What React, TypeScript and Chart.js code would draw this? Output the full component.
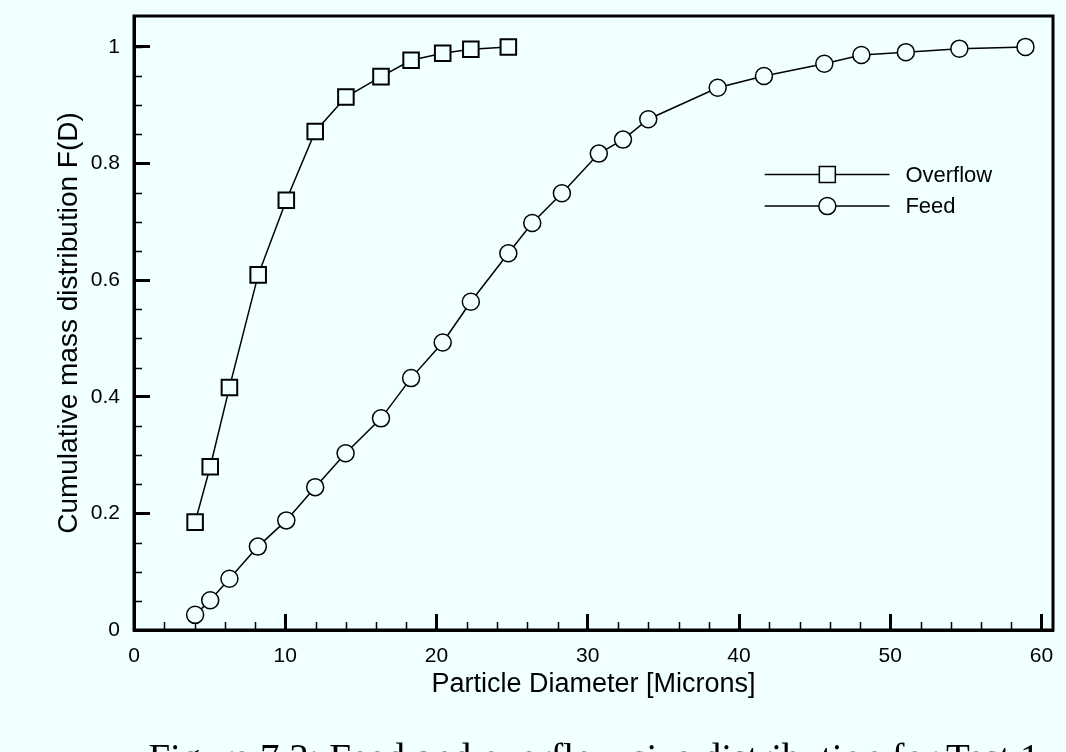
import React, { useEffect, useRef } from "react";
import { Chart, registerables } from "chart.js";

Chart.register(...registerables);

// ---------- data ----------
const overflowLabel = "Overflow";
const feedLabel = "Feed";

const overflowDiameters = [4.04, 5.04, 6.31, 8.21, 10.07, 11.98, 14.01, 16.33, 18.32, 20.41, 22.27, 24.75];
const overflowCumulative = [0.185, 0.28, 0.416, 0.609, 0.737, 0.855, 0.914, 0.949, 0.977, 0.989, 0.996, 1.0];

const feedDiameters = [
  4.04, 5.04, 6.31, 8.19, 10.07, 11.98, 13.99, 16.33, 18.32, 20.41, 22.27, 24.75,
  26.33, 28.29, 30.73, 32.33, 34.0, 38.59, 41.65, 45.64, 48.09, 51.03, 54.57, 58.94,
];
const feedCumulative = [
  0.026, 0.051, 0.088, 0.143, 0.188, 0.245, 0.303, 0.363, 0.432, 0.493, 0.563, 0.646,
  0.698, 0.749, 0.817, 0.841, 0.876, 0.93, 0.95, 0.971, 0.986, 0.991, 0.997, 1.0,
];

const xTickValues = [0, 10, 20, 30, 40, 50, 60];
const xTickLabels = ["0", "10", "20", "30", "40", "50", "60"];
const yTickValues = [0, 0.2, 0.4, 0.6, 0.8, 1];
const yTickLabels = ["0", "0.2", "0.4", "0.6", "0.8", "1"];
const xMinorTickValues = [2, 4, 6, 8, 12, 14, 16, 18, 22, 24, 26, 28, 32, 34, 36, 38, 42, 44, 46, 48, 52, 54, 56, 58];
const yMinorTickValues = [0.05, 0.1, 0.15, 0.25, 0.3, 0.35, 0.45, 0.5, 0.55, 0.65, 0.7, 0.75, 0.85, 0.9, 0.95, 1.0];

const xTitle = "Particle Diameter [Microns]";
const yTitle = "Cumulative mass distribution F(D)";
const caption = "Figure 7.3: Feed and overflow size distribution for Test 1";

// ---------- style / layout ----------
const BG = "#F0FFFF";
const SANS = "'Liberation Sans', Arial, Helvetica, sans-serif";
const W = 1066;
const H = 752;
const X_MIN = 0;
const X_MAX = 60.76;
const Y_MIN = 0;
const Y_MAX = 1.053;

// legend placement in data coordinates
const LEGEND = { x0: 41.7, x1: 49.95, marker: 45.84, text: 51.0, rows: [0.781, 0.727] };

const zeroPadding = (s: any) => {
  s.paddingTop = 0;
  s.paddingBottom = 0;
  s.paddingLeft = 0;
  s.paddingRight = 0;
};

const framePlugin = {
  id: "frameAndMinorTicks",
  beforeDatasetsDraw(chart: any) {
    const { ctx, chartArea: a, scales } = chart;
    const x = scales.x;
    const y = scales.y;
    ctx.save();
    ctx.strokeStyle = "#000";
    ctx.lineWidth = 1.5;
    ctx.beginPath();
    for (const v of xMinorTickValues) {
      const px = Math.round(x.getPixelForValue(v)) + 0.5;
      ctx.moveTo(px, a.bottom);
      ctx.lineTo(px, a.bottom - 8);
    }
    for (const v of yMinorTickValues) {
      const py = Math.round(y.getPixelForValue(v)) + 0.5;
      ctx.moveTo(a.left, py);
      ctx.lineTo(a.left + 8, py);
    }
    ctx.stroke();
    ctx.lineWidth = 3;
    ctx.strokeRect(a.left, a.top, a.right - a.left, a.bottom - a.top);
    ctx.restore();
  },
};

const legendPlugin = {
  id: "lineMarkerLegend",
  afterDraw(chart: any) {
    const { ctx, scales } = chart;
    const x = scales.x;
    const y = scales.y;
    const x0 = x.getPixelForValue(LEGEND.x0);
    const x1 = x.getPixelForValue(LEGEND.x1);
    const xm = x.getPixelForValue(LEGEND.marker);
    const xt = x.getPixelForValue(LEGEND.text);
    const items = [
      { label: overflowLabel, style: "rect" },
      { label: feedLabel, style: "circle" },
    ];
    ctx.save();
    items.forEach((it, i) => {
      const py = y.getPixelForValue(LEGEND.rows[i]);
      ctx.strokeStyle = "#000";
      ctx.lineWidth = 1.5;
      ctx.beginPath();
      ctx.moveTo(x0, py);
      ctx.lineTo(x1, py);
      ctx.stroke();
      ctx.fillStyle = BG;
      ctx.beginPath();
      if (it.style === "rect") {
        ctx.rect(xm - 8, py - 8, 16, 16);
      } else {
        ctx.arc(xm, py, 8.5, 0, Math.PI * 2);
      }
      ctx.fill();
      ctx.stroke();
      ctx.fillStyle = "#000";
      ctx.font = `22px ${SANS}`;
      ctx.textAlign = "left";
      ctx.textBaseline = "middle";
      ctx.fillText(it.label, xt, py + 1);
    });
    ctx.restore();
  },
};

export default function App() {
  const canvasRef = useRef<HTMLCanvasElement | null>(null);

  useEffect(() => {
    const canvas = canvasRef.current;
    if (!canvas) return;
    const chart = new Chart(canvas, {
      type: "line",
      data: {
        datasets: [
          {
            label: overflowLabel,
            data: overflowDiameters.map((d, i) => ({ x: d, y: overflowCumulative[i] })),
            borderColor: "#000",
            borderWidth: 1.5,
            tension: 0,
            fill: false,
            pointStyle: "rect",
            pointRadius: 11,
            pointHoverRadius: 11,
            pointBorderWidth: 2,
            pointBorderColor: "#000",
            pointBackgroundColor: BG,
          },
          {
            label: feedLabel,
            data: feedDiameters.map((d, i) => ({ x: d, y: feedCumulative[i] })),
            borderColor: "#000",
            borderWidth: 1.5,
            tension: 0,
            fill: false,
            pointStyle: "circle",
            pointRadius: 8.5,
            pointHoverRadius: 8.5,
            pointBorderWidth: 1.5,
            pointBorderColor: "#000",
            pointBackgroundColor: BG,
          },
        ],
      },
      options: {
        responsive: false,
        animation: false,
        devicePixelRatio: 1,
        clip: false as any,
        layout: { padding: { left: 0, top: 16, right: 4, bottom: 0 } },
        plugins: {
          legend: { display: false },
          tooltip: { enabled: false },
          title: { display: false },
        },
        events: [],
        scales: {
          x: {
            type: "linear",
            min: X_MIN,
            max: X_MAX,
            afterBuildTicks: (s: any) => {
              s.ticks = xTickValues.map((v) => ({ value: v }));
            },
            afterFit: (s: any) => {
              s.height = H - 630;
              zeroPadding(s);
            },
            grid: {
              drawOnChartArea: false,
              drawTicks: true,
              tickLength: -16,
              tickWidth: 3,
              tickColor: "#000",
            },
            border: { display: true, color: "#000", width: 3 },
            ticks: {
              color: "#000",
              font: { family: SANS, size: 21 },
              padding: 30,
              maxRotation: 0,
              autoSkip: false,
              callback: (_v: any, i: number) => xTickLabels[i],
            },
            title: {
              display: true,
              text: xTitle,
              color: "#000",
              font: { family: SANS, size: 27 },
              padding: { top: 0, bottom: 51 },
            },
          },
          y: {
            type: "linear",
            min: Y_MIN,
            max: Y_MAX,
            afterBuildTicks: (s: any) => {
              s.ticks = yTickValues.map((v) => ({ value: v }));
            },
            afterFit: (s: any) => {
              s.width = 134;
              zeroPadding(s);
            },
            grid: {
              drawOnChartArea: false,
              drawTicks: true,
              tickLength: -16,
              tickWidth: 3,
              tickColor: "#000",
            },
            border: { display: true, color: "#000", width: 3 },
            ticks: {
              color: "#000",
              font: { family: SANS, size: 21 },
              padding: 30,
              autoSkip: false,
              callback: (_v: any, i: number) => yTickLabels[i],
            },
            title: {
              display: true,
              text: yTitle,
              color: "#000",
              font: { family: SANS, size: 28 },
              padding: { top: 52, bottom: 0 },
            },
          },
        },
      },
      plugins: [framePlugin, legendPlugin],
    } as any);
    return () => chart.destroy();
  }, []);

  return (
    <div
      style={{
        position: "fixed",
        left: 0,
        top: 0,
        width: W,
        height: H,
        background: BG,
        overflow: "hidden",
      }}
    >
      <canvas
        ref={canvasRef}
        width={W}
        height={H}
        style={{ position: "absolute", left: 0, top: 0, width: W, height: H, display: "block" }}
      />
      <div
        style={{
          position: "absolute",
          left: 594,
          top: 735,
          transform: "translateX(-50%)",
          whiteSpace: "nowrap",
          fontFamily: "'Liberation Serif', 'Times New Roman', serif",
          fontSize: 39,
          color: "#000",
        }}
      >
        {caption}
      </div>
    </div>
  );
}
